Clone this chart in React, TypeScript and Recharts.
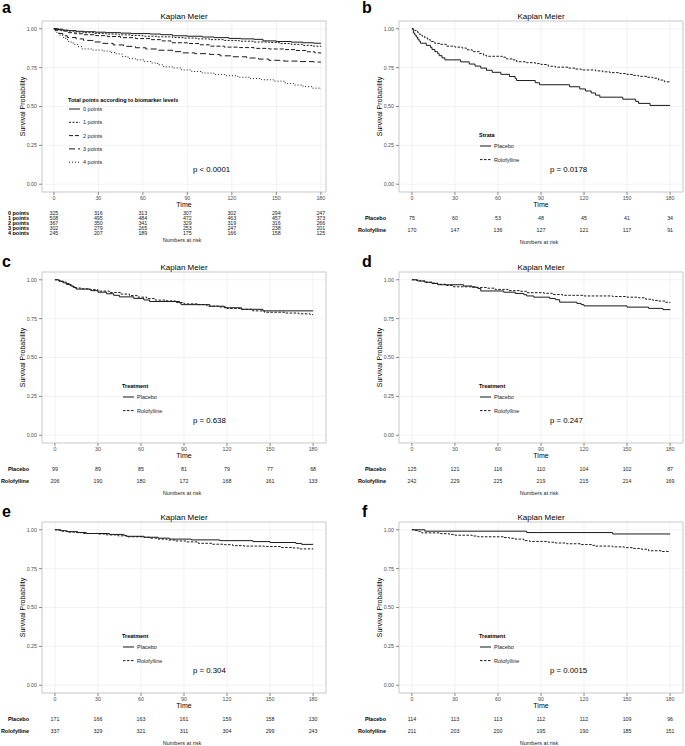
import React from 'react';
import { LineChart, Line, XAxis, YAxis, CartesianGrid, ReferenceArea, ScatterChart, Scatter } from 'recharts';

type Pt = [number, number];

const timeTicks = [0, 30, 60, 90, 120, 150, 180];
const survTicks = [0, 0.25, 0.5, 0.75, 1];

// panel a: total points according to biomarker levels
const aPoints0: Pt[] = [[0, 1], [3, 0.997], [6, 0.991], [10, 0.988], [15, 0.984], [20, 0.981], [28, 0.978], [35, 0.975], [45, 0.972], [52, 0.969], [65, 0.966], [72, 0.962], [80, 0.955], [90, 0.952], [100, 0.947], [108, 0.943], [118, 0.938], [126, 0.935], [135, 0.932], [141, 0.922], [150, 0.918], [160, 0.914], [168, 0.91], [175, 0.907], [180, 0.905]];
const aPoints1: Pt[] = [[0, 1], [2, 0.996], [5, 0.99], [9, 0.985], [14, 0.979], [20, 0.975], [27, 0.97], [35, 0.966], [44, 0.961], [52, 0.957], [60, 0.952], [70, 0.948], [80, 0.943], [88, 0.94], [96, 0.935], [105, 0.93], [115, 0.925], [125, 0.92], [135, 0.915], [145, 0.912], [152, 0.905], [160, 0.9], [168, 0.893], [175, 0.888], [180, 0.885]];
const aPoints2: Pt[] = [[0, 1], [2, 0.993], [5, 0.985], [9, 0.975], [14, 0.968], [20, 0.962], [28, 0.956], [36, 0.95], [45, 0.943], [55, 0.937], [65, 0.93], [72, 0.922], [79, 0.91], [90, 0.905], [98, 0.897], [105, 0.888], [115, 0.882], [125, 0.879], [135, 0.874], [145, 0.87], [155, 0.866], [163, 0.86], [170, 0.852], [176, 0.845], [180, 0.842]];
const aPoints3: Pt[] = [[0, 1], [1, 0.99], [3, 0.97], [6, 0.955], [9, 0.944], [15, 0.935], [20, 0.925], [27, 0.915], [33, 0.906], [40, 0.896], [47, 0.887], [55, 0.878], [62, 0.87], [70, 0.862], [80, 0.853], [86, 0.845], [95, 0.84], [105, 0.835], [112, 0.826], [120, 0.82], [130, 0.812], [138, 0.805], [145, 0.797], [155, 0.792], [165, 0.789], [175, 0.786], [180, 0.785]];
const aPoints4: Pt[] = [[0, 1], [1, 0.985], [2, 0.972], [4, 0.958], [6, 0.944], [8, 0.93], [10, 0.915], [13, 0.9], [16, 0.885], [19, 0.87], [26, 0.863], [33, 0.857], [38, 0.847], [42, 0.838], [46, 0.822], [50, 0.808], [55, 0.8], [61, 0.79], [66, 0.78], [70, 0.768], [74, 0.755], [80, 0.748], [86, 0.735], [93, 0.725], [100, 0.715], [108, 0.706], [116, 0.698], [124, 0.688], [132, 0.68], [140, 0.672], [148, 0.663], [156, 0.648], [162, 0.638], [168, 0.628], [174, 0.618], [180, 0.612]];
const aRisk0 = [325, 316, 313, 307, 302, 294, 247];
const aRisk1 = [508, 495, 484, 472, 463, 457, 373];
const aRisk2 = [367, 350, 341, 329, 319, 316, 266];
const aRisk3 = [302, 279, 265, 253, 247, 238, 201];
const aRisk4 = [245, 207, 189, 175, 166, 158, 125];

// panel b
const bPlacebo: Pt[] = [[0, 1], [1, 0.973], [2, 0.96], [3, 0.947], [4, 0.933], [5, 0.92], [6, 0.907], [10, 0.893], [13, 0.88], [14, 0.867], [16, 0.853], [18, 0.84], [19, 0.827], [21, 0.813], [23, 0.8], [34, 0.787], [40, 0.773], [44, 0.76], [48, 0.747], [52, 0.733], [56, 0.72], [62, 0.707], [68, 0.693], [72, 0.68], [73, 0.667], [86, 0.653], [89, 0.64], [110, 0.627], [117, 0.613], [121, 0.6], [125, 0.587], [128, 0.573], [131, 0.56], [147, 0.547], [156, 0.533], [158, 0.52], [166, 0.507], [180, 0.507]];
const bRolo: Pt[] = [[0, 1], [1, 0.994], [2, 0.988], [4, 0.976], [5, 0.965], [7, 0.953], [9, 0.941], [11, 0.929], [13, 0.918], [16, 0.906], [20, 0.9], [24, 0.888], [30, 0.882], [35, 0.876], [38, 0.865], [42, 0.853], [47, 0.841], [50, 0.829], [52, 0.823], [63, 0.817], [66, 0.806], [70, 0.8], [73, 0.788], [80, 0.782], [86, 0.776], [90, 0.77], [95, 0.759], [100, 0.753], [109, 0.747], [114, 0.741], [118, 0.735], [128, 0.729], [133, 0.723], [138, 0.718], [145, 0.712], [150, 0.706], [154, 0.7], [158, 0.694], [164, 0.688], [168, 0.682], [172, 0.67], [176, 0.659], [180, 0.657]];
const bRiskPlacebo = [75, 60, 53, 48, 45, 41, 34];
const bRiskRolo = [170, 147, 136, 127, 121, 117, 91];

// panel c
const cPlacebo: Pt[] = [[0, 1], [3, 0.99], [6, 0.98], [8, 0.97], [11, 0.96], [13, 0.95], [15, 0.94], [25, 0.93], [30, 0.92], [36, 0.91], [41, 0.9], [45, 0.89], [55, 0.88], [62, 0.87], [66, 0.86], [87, 0.85], [88, 0.84], [108, 0.83], [118, 0.82], [130, 0.81], [145, 0.8], [180, 0.8]];
const cRolo: Pt[] = [[0, 1], [2, 0.995], [5, 0.985], [8, 0.976], [10, 0.966], [12, 0.956], [14, 0.947], [18, 0.942], [24, 0.937], [30, 0.927], [38, 0.918], [46, 0.908], [52, 0.898], [58, 0.888], [64, 0.879], [70, 0.869], [78, 0.864], [84, 0.854], [90, 0.845], [100, 0.84], [106, 0.83], [114, 0.825], [120, 0.815], [130, 0.81], [138, 0.8], [146, 0.791], [160, 0.786], [170, 0.781], [178, 0.776], [180, 0.776]];
const cRiskPlacebo = [99, 89, 85, 81, 79, 77, 68];
const cRiskRolo = [206, 190, 180, 172, 168, 161, 133];

// panel d
const dPlacebo: Pt[] = [[0, 1], [4, 0.992], [9, 0.984], [14, 0.976], [18, 0.968], [36, 0.96], [42, 0.952], [46, 0.944], [48, 0.928], [64, 0.92], [72, 0.912], [78, 0.904], [80, 0.896], [85, 0.888], [96, 0.88], [100, 0.872], [103, 0.856], [115, 0.848], [118, 0.84], [120, 0.832], [150, 0.824], [165, 0.816], [175, 0.808], [180, 0.805]];
const dRolo: Pt[] = [[0, 1], [3, 0.996], [6, 0.992], [10, 0.984], [14, 0.979], [18, 0.971], [24, 0.963], [29, 0.955], [45, 0.95], [52, 0.946], [58, 0.938], [67, 0.93], [75, 0.926], [80, 0.917], [92, 0.913], [98, 0.905], [105, 0.9], [120, 0.896], [140, 0.892], [150, 0.888], [158, 0.884], [163, 0.875], [168, 0.867], [172, 0.863], [177, 0.855], [180, 0.852]];
const dRiskPlacebo = [125, 121, 116, 110, 104, 102, 87];
const dRiskRolo = [242, 229, 225, 219, 215, 214, 169];

// panel e
const ePlacebo: Pt[] = [[0, 1], [4, 0.994], [8, 0.988], [16, 0.982], [22, 0.976], [38, 0.97], [48, 0.964], [50, 0.958], [62, 0.952], [72, 0.946], [80, 0.94], [95, 0.935], [115, 0.93], [138, 0.924], [150, 0.918], [168, 0.912], [172, 0.906], [180, 0.906]];
const eRolo: Pt[] = [[0, 1], [2, 0.997], [5, 0.991], [9, 0.985], [14, 0.982], [20, 0.976], [30, 0.973], [36, 0.967], [44, 0.961], [50, 0.955], [62, 0.952], [66, 0.946], [72, 0.94], [78, 0.934], [84, 0.928], [92, 0.922], [100, 0.913], [110, 0.907], [118, 0.904], [124, 0.898], [132, 0.895], [146, 0.892], [158, 0.886], [166, 0.883], [170, 0.877], [180, 0.875]];
const eRiskPlacebo = [171, 166, 163, 161, 159, 158, 130];
const eRiskRolo = [337, 329, 321, 311, 304, 299, 243];

// panel f
const fPlacebo: Pt[] = [[0, 1], [9, 0.991], [80, 0.982], [140, 0.973], [180, 0.973]];
const fRolo: Pt[] = [[0, 1], [2, 0.995], [4, 0.99], [6, 0.985], [7, 0.98], [20, 0.975], [26, 0.97], [30, 0.965], [42, 0.96], [46, 0.955], [64, 0.95], [68, 0.945], [72, 0.94], [78, 0.93], [82, 0.925], [95, 0.92], [100, 0.915], [108, 0.91], [118, 0.905], [126, 0.9], [128, 0.895], [140, 0.89], [148, 0.885], [154, 0.88], [160, 0.875], [165, 0.865], [174, 0.86], [180, 0.86]];
const fRiskPlacebo = [114, 113, 113, 112, 112, 109, 96];
const fRiskRolo = [211, 203, 200, 195, 190, 185, 151];

const ROLO_DASH = '2.5 1.5';

interface Series { name: string; pts: Pt[]; dash?: string }
interface RiskRow { label: string; n: number[] }
interface Panel {
  letter: string;
  col: number;
  row: number;
  xDomain: [number, number];
  series: Series[];
  risk: RiskRow[];
  legendTitle: string;
  pValue: string;
  compact?: boolean;
}

const treat = (p: Pt[], r: Pt[]): Series[] => [
  { name: 'Placebo', pts: p },
  { name: 'Rolofylline', pts: r, dash: ROLO_DASH },
];

const panels: Panel[] = [
  {
    letter: 'a', col: 0, row: 0, xDomain: [-8, 183.5], compact: true,
    legendTitle: 'Total points according to biomarker levels', pValue: 'p < 0.0001',
    series: [
      { name: '0 points', pts: aPoints0 },
      { name: '1 points', pts: aPoints1, dash: '2 1.5' },
      { name: '2 points', pts: aPoints2, dash: '4 2' },
      { name: '3 points', pts: aPoints3, dash: '6 3' },
      { name: '4 points', pts: aPoints4, dash: '1 2' },
    ],
    risk: [
      { label: '0 points', n: aRisk0 },
      { label: '1 points', n: aRisk1 },
      { label: '2 points', n: aRisk2 },
      { label: '3 points', n: aRisk3 },
      { label: '4 points', n: aRisk4 },
    ],
  },
  {
    letter: 'b', col: 1, row: 0, xDomain: [-9, 189], legendTitle: 'Strata', pValue: 'p = 0.0178',
    series: treat(bPlacebo, bRolo),
    risk: [{ label: 'Placebo', n: bRiskPlacebo }, { label: 'Rolofylline', n: bRiskRolo }],
  },
  {
    letter: 'c', col: 0, row: 1, xDomain: [-9, 189], legendTitle: 'Treatment', pValue: 'p = 0.638',
    series: treat(cPlacebo, cRolo),
    risk: [{ label: 'Placebo', n: cRiskPlacebo }, { label: 'Rolofylline', n: cRiskRolo }],
  },
  {
    letter: 'd', col: 1, row: 1, xDomain: [-9, 189], legendTitle: 'Treatment', pValue: 'p = 0.247',
    series: treat(dPlacebo, dRolo),
    risk: [{ label: 'Placebo', n: dRiskPlacebo }, { label: 'Rolofylline', n: dRiskRolo }],
  },
  {
    letter: 'e', col: 0, row: 2, xDomain: [-9, 189], legendTitle: 'Treatment', pValue: 'p = 0.304',
    series: treat(ePlacebo, eRolo),
    risk: [{ label: 'Placebo', n: eRiskPlacebo }, { label: 'Rolofylline', n: eRiskRolo }],
  },
  {
    letter: 'f', col: 1, row: 2, xDomain: [-9, 189], legendTitle: 'Treatment', pValue: 'p = 0.0015',
    series: treat(fPlacebo, fRolo),
    risk: [{ label: 'Placebo', n: fRiskPlacebo }, { label: 'Rolofylline', n: fRiskRolo }],
  },
];

const COLS = [
  { ox: 0, w: 342, yw: 42, mr: 16, letterX: 2 },
  { ox: 342, w: 343, yw: 57, mr: 2, letterX: 362 },
];
const ROW_TOP = [0, 251, 501];
const LETTER_DY = [13, 16, 16];
const PLOT_TOP = 21;
const PLOT_BOTTOM = 192;
const INK = '#1a1a1a';
const TICK_TEXT = '#4d4d4d';

const toRows = (pts: Pt[]) => pts.map(([t, s]) => ({ t, s }));

const KMPanel: React.FC<{ p: Panel }> = ({ p }) => {
  const c = COLS[p.col];
  const oy = ROW_TOP[p.row];
  const riskData = p.risk.flatMap((r, row) => r.n.map((n, i) => ({ t: timeTicks[i], row, n })));
  const nRows = p.risk.length;
  const riskTop = p.compact ? 19 : 20;
  return (
    <>
      <div style={{ position: 'absolute', left: c.ox, top: oy }}>
        <LineChart width={c.w} height={210} margin={{ top: PLOT_TOP, right: c.mr, bottom: 0, left: 0 }}>
          <CartesianGrid stroke="#ededed" strokeWidth={0.7} />
          <XAxis
            type="number" dataKey="t" domain={p.xDomain} ticks={timeTicks} interval={0}
            allowDataOverflow height={18} axisLine={false}
            tickLine={{ stroke: '#888' }} tickSize={3} tickMargin={1}
            tick={{ fontSize: 5.3, fill: TICK_TEXT }}
          />
          <YAxis
            type="number" dataKey="s" domain={[-0.05, 1.05]} ticks={survTicks} interval={0}
            allowDataOverflow width={c.yw} axisLine={false}
            tickLine={{ stroke: '#888' }} tickSize={3} tickMargin={2}
            tickFormatter={(v: number) => v.toFixed(2)}
            tick={{ fontSize: 5.3, fill: TICK_TEXT }}
          />
          <ReferenceArea
            x1={p.xDomain[0]} x2={p.xDomain[1]} y1={-0.05} y2={1.05}
            fill="none" stroke="#cfcfcf" strokeWidth={1} ifOverflow="visible"
          />
          {p.series.map((s) => (
            <Line
              key={s.name} name={s.name} data={toRows(s.pts)} dataKey="s" type="stepAfter"
              stroke={INK} strokeWidth={1} strokeDasharray={s.dash} dot={false}
              activeDot={false} isAnimationActive={false}
            />
          ))}
        </LineChart>
      </div>
      <div style={{ position: 'absolute', left: c.ox, top: oy + PLOT_BOTTOM + riskTop }}>
        <ScatterChart width={c.w} height={24} margin={{ top: 0, right: c.mr, bottom: 0, left: 0 }}>
          <XAxis type="number" dataKey="t" domain={p.xDomain} allowDataOverflow hide />
          <YAxis
            type="number" dataKey="row" domain={[-0.5, nRows - 0.5]} reversed
            ticks={p.risk.map((_, i) => i)} interval={0} width={c.yw}
            axisLine={false} tickLine={false} tickSize={0} tickMargin={13}
            tick={(t: any) => (
              <text
                x={t.x} y={t.y} textAnchor="end" dominantBaseline="central"
                fontSize={5.5} fontWeight={700} fill="#000"
              >
                {p.risk[t.payload.value]?.label ?? ''}
              </text>
            )}
          />
          <Scatter
            data={riskData} isAnimationActive={false}
            shape={(props: any) => (
              <text
                x={props.cx} y={props.cy} textAnchor="middle" dominantBaseline="central"
                fontSize={5.3} fill="#222"
              >
                {props.payload.n}
              </text>
            )}
          />
        </ScatterChart>
      </div>
    </>
  );
};

const Annotations: React.FC<{ p: Panel }> = ({ p }) => {
  const c = COLS[p.col];
  const oy = ROW_TOP[p.row];
  const px0 = c.ox + c.yw;
  const px1 = c.ox + c.w - c.mr;
  const py0 = oy + PLOT_TOP;
  const py1 = oy + PLOT_BOTTOM;
  const cx = (px0 + px1) / 2;
  const lg = p.compact
    ? { x: px0 + 26, titleY: py0 + 79, firstY: py0 + 88, gap: 13.3 }
    : { x: px0 + 80, titleY: py0 + 114, firstY: py0 + 125, gap: 13.6 };
  return (
    <g>
      <text x={c.letterX} y={oy + LETTER_DY[p.row]} fontSize={16} fontWeight={700} fill="#000">{p.letter}</text>
      <text x={cx} y={py0 - 5} textAnchor="middle" dominantBaseline="central" fontSize={8} fill="#000">Kaplan Meier</text>
      <text
        x={px0 - 20} y={(py0 + py1) / 2} textAnchor="middle" dominantBaseline="central" fontSize={7} fill="#000"
        transform={`rotate(-90 ${px0 - 20} ${(py0 + py1) / 2})`}
      >
        Survival Probability
      </text>
      <text x={cx} y={py1 + 12} textAnchor="middle" dominantBaseline="central" fontSize={7} fill="#000">Time</text>
      <text x={px0 + 151} y={py0 + 148} dominantBaseline="central" fontSize={7.8} fill="#000">{p.pValue}</text>
      <text x={lg.x} y={lg.titleY} dominantBaseline="central" fontSize={5.5} fontWeight={700} fill="#000">{p.legendTitle}</text>
      {p.series.map((s, i) => {
        const y = lg.firstY + i * lg.gap;
        return (
          <g key={s.name}>
            <line x1={lg.x + 1} x2={lg.x + 12} y1={y} y2={y} stroke={INK} strokeWidth={1} strokeDasharray={s.dash} />
            <text x={lg.x + 15} y={y} dominantBaseline="central" fontSize={5.5} fill="#222">{s.name}</text>
          </g>
        );
      })}
      <text x={cx - 2} y={py1 + (p.compact ? 48 : 50)} textAnchor="middle" dominantBaseline="central" fontSize={5.5} fill="#222">
        Numbers at risk
      </text>
    </g>
  );
};

export default function App() {
  return (
    <div
      style={{
        position: 'absolute', left: 0, top: 0, width: 685, height: 746, background: '#fff',
        fontFamily: '"Liberation Sans", Arial, Helvetica, sans-serif', overflow: 'hidden',
      }}
    >
      {panels.map((p) => <KMPanel key={p.letter} p={p} />)}
      <svg width={685} height={746} style={{ position: 'absolute', left: 0, top: 0, pointerEvents: 'none' }}>
        {panels.map((p) => <Annotations key={p.letter} p={p} />)}
      </svg>
    </div>
  );
}
